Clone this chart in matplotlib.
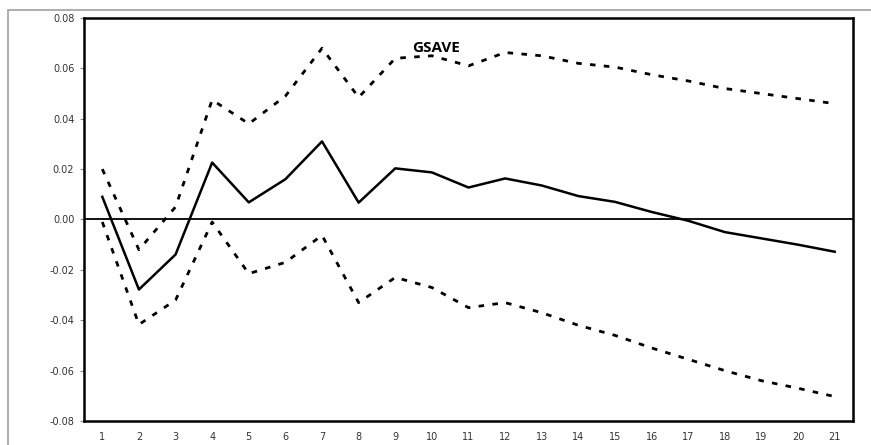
import numpy as np
import matplotlib.pyplot as plt
from matplotlib.patches import Rectangle

periods = list(range(1, 22))
response = [0.009, -0.0278, -0.0139, 0.0226, 0.0068, 0.016, 0.031, 0.0067, 0.0203, 0.0187,
            0.0127, 0.0163, 0.0135, 0.0093, 0.007, 0.003, -0.0005, -0.005, -0.0075, -0.010, -0.0128]
upper = [0.020, -0.012, 0.005, 0.0475, 0.038, 0.049, 0.068, 0.0485, 0.064, 0.065,
         0.061, 0.0663, 0.065, 0.062, 0.0605, 0.0575, 0.055, 0.052, 0.050, 0.048, 0.046]
lower = [-0.001, -0.0417, -0.032, -0.001, -0.0215, -0.017, -0.0063, -0.033, -0.023, -0.027,
         -0.035, -0.033, -0.037, -0.042, -0.046, -0.051, -0.0555, -0.060, -0.064, -0.067, -0.0703]
yticks = np.arange(-0.08, 0.0801, 0.02)

fig = plt.figure(figsize=(8.71, 4.45), dpi=100)
# grey outer chart border
fig.patches.append(Rectangle((8 / 871, -0.01), 1.0, (445 - 10) / 445 + 0.01,
                             transform=fig.transFigure, fill=False,
                             edgecolor='#a0a0a0', linewidth=1.2))

ax = fig.add_axes([84 / 871, 1 - 421 / 445, (853 - 84) / 871, (421 - 18) / 445])
x = np.array(periods)
ax.plot(x, response, color='black', linewidth=1.8)
ax.plot(x, upper, color='black', linewidth=2, linestyle=(0, (2, 3)))
ax.plot(x, lower, color='black', linewidth=2, linestyle=(0, (2, 3)))
ax.axhline(0, color='black', linewidth=1.3)

ax.set_xlim(0.5, 21.5)
ax.set_ylim(-0.08, 0.08)
ax.set_xticks(periods)
ax.set_xticklabels([str(p) for p in periods])
ax.set_yticks(yticks)
ax.set_yticklabels(['%.2f' % v for v in yticks])
ax.tick_params(axis='both', labelsize=7, colors='#333333')
ax.tick_params(axis='x', length=0, pad=8)
ax.tick_params(axis='y', length=3, width=0.8, pad=4, color='#888888')
for s in ax.spines.values():
    s.set_linewidth(1.8)
    s.set_color('black')

ax.text(10.1, 0.068, 'GSAVE', fontsize=11, fontweight='bold', ha='center', va='center',
        family='Open Sans')

fig.savefig('out.png', dpi=100)
